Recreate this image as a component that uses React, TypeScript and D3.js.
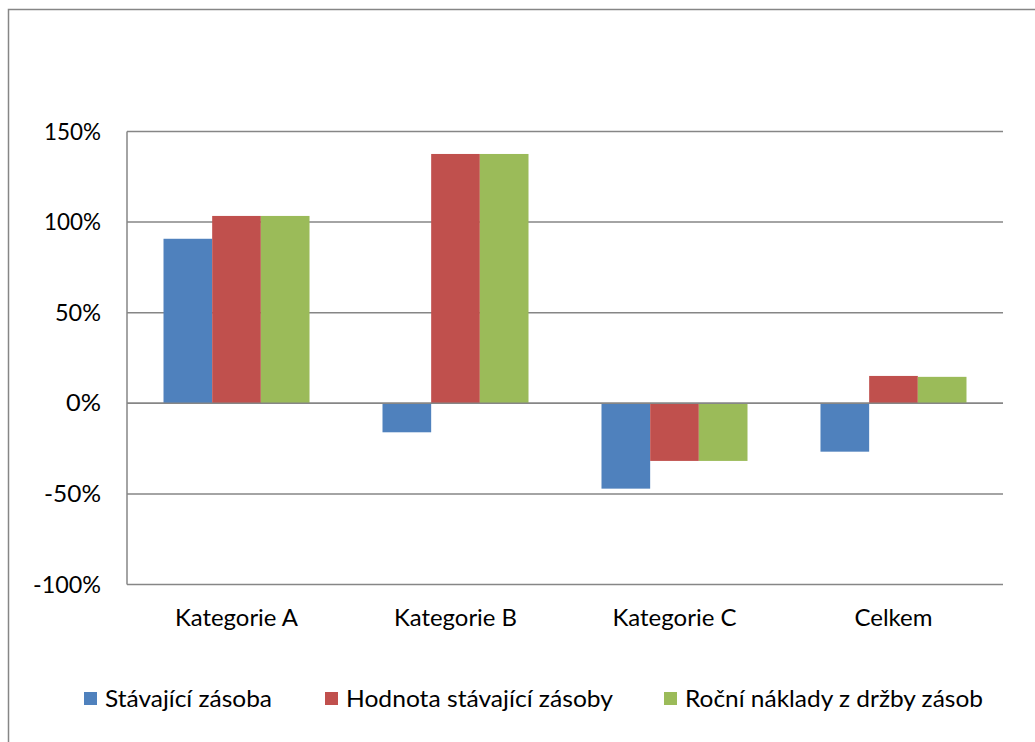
import React from "react";
import * as d3 from "d3";

const categories = ["Kategorie A", "Kategorie B", "Kategorie C", "Celkem"];
const seriesNames = ["Stávající zásoba", "Hodnota stávající zásoby", "Roční náklady z držby zásob"];
const stavajiciZasoba = [90.8, -16.0, -47.1, -26.7];
const hodnotaZasoby = [103.4, 137.6, -31.8, 15.1];
const rocniNaklady = [103.4, 137.6, -31.8, 14.6];
const yTicks = [-100, -50, 0, 50, 100, 150];
const colors = ["#4F81BD", "#C0504D", "#9BBB59"];

const W = 1035;
const H = 742;
const FONT = "Lato, Carlito, 'Open Sans', sans-serif";
const FS = 22.5;

export default function App() {
  const series = [stavajiciZasoba, hodnotaZasoby, rocniNaklady];
  const left = 127;
  const right = 1003;
  const y = d3.scaleLinear().domain([-100, 150]).range([584.5, 131.5]);
  const x0 = d3.scaleBand<string>().domain(categories).range([left, right]).paddingInner(0.3333).paddingOuter(0.1667);
  const x1 = d3.scaleBand<number>().domain([0, 1, 2]).range([0, x0.bandwidth()]);
  const legendX = [84, 325, 664];
  const legendW = [167, 267, 298];
  const catW = [123, 123, 124, 78];
  const tickW = (t: number) => (t === -100 ? 68 : t === -50 ? 57 : t === 0 ? 35 : t === 150 || t === 100 ? 57 : 46);

  return (
    <svg width={W} height={H} style={{ position: "absolute", left: 0, top: 0, background: "#fff" }}>
      <rect x={8.5} y={9.5} width={1040} height={760} fill="#fff" stroke="#868686" strokeWidth={1.5} />
      {yTicks.map((t) => (
        <g key={t}>
          <line x1={left} x2={right} y1={y(t)} y2={y(t)} stroke="#868686" strokeWidth={1.5} />
          <text
            x={101}
            y={y(t)}
            dy="0.36em"
            textAnchor="end"
            fontFamily={FONT}
            fontSize={FS}
            fill="#000"
            textLength={tickW(t)}
            lengthAdjust="spacingAndGlyphs"
          >
            {t}%
          </text>
        </g>
      ))}
      <line x1={left} x2={left} y1={y(150)} y2={y(-100)} stroke="#868686" strokeWidth={1.5} />
      {categories.map((c, ci) => (
        <g key={c}>
          {series.map((s, si) => {
            const v = s[ci];
            const bx = (x0(c) as number) + (x1(si) as number);
            const top = Math.min(y(v), y(0));
            const h = Math.abs(y(v) - y(0));
            return <rect key={si} x={bx} y={top} width={x1.bandwidth()} height={h} fill={colors[si]} />;
          })}
          <text
            x={(x0(c) as number) + x0.bandwidth() / 2}
            y={618}
            dy="0.36em"
            textAnchor="middle"
            fontFamily={FONT}
            fontSize={FS}
            fill="#000"
            textLength={catW[ci]}
            lengthAdjust="spacingAndGlyphs"
          >
            {c}
          </text>
        </g>
      ))}
      <line x1={left} x2={right} y1={y(0)} y2={y(0)} stroke="#868686" strokeWidth={1.5} />
      {seriesNames.map((n, i) => (
        <g key={n}>
          <rect x={legendX[i]} y={692} width={13} height={13} fill={colors[i]} />
          <text
            x={legendX[i] + 21}
            y={699}
            dy="0.36em"
            fontFamily={FONT}
            fontSize={FS}
            fill="#000"
            textLength={legendW[i]}
            lengthAdjust="spacingAndGlyphs"
          >
            {n}
          </text>
        </g>
      ))}
    </svg>
  );
}
